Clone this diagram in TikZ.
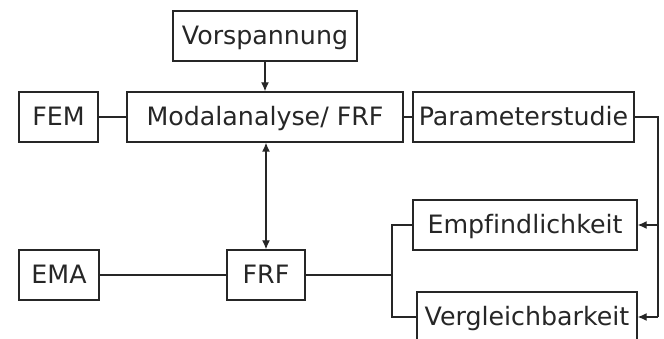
\documentclass[tikz,border=0pt]{standalone}
\usepackage{fontspec}
\setmainfont[Ligatures=NoCommon]{DejaVu Sans}
\usetikzlibrary{arrows.meta}
\definecolor{ink}{HTML}{262626}
\begin{document}
\begin{tikzpicture}[x=1pt,y=-1pt,
  box/.style={draw=ink,line width=1.3pt,text=ink,inner sep=0pt,
    font=\fontsize{25.3}{30}\selectfont,text height=18.4pt,text depth=2pt,anchor=center},
  conn/.style={draw=ink,line width=1.3pt},
  arr/.style={conn,-{Latex[length=9pt,width=8pt]}},
  darr/.style={conn,{Latex[length=9pt,width=8pt]}-{Latex[length=9pt,width=8pt]}}]
\useasboundingbox (0,0) rectangle (664,339);
\clip (0,0) rectangle (664,339);
\node[box,minimum width=184pt,minimum height=50pt] (vor) at (265,36) {Vorspannung};
\node[box,minimum width=79pt,minimum height=50pt] (fem) at (58.5,117) {FEM};
\node[box,minimum width=276pt,minimum height=50pt] (modal) at (265,117) {Modalanalyse/ FRF};
\node[box,minimum width=221pt,minimum height=50pt] (param) at (523.5,117) {Parameterstudie};
\node[box,minimum width=224pt,minimum height=50pt] (empf) at (525,225) {Empfindlichkeit};
\node[box,minimum width=80pt,minimum height=50pt] (ema) at (59,275) {EMA};
\node[box,minimum width=78pt,minimum height=50pt] (frf) at (266,275) {FRF};
\node[box,minimum width=220pt,minimum height=50pt] (verg) at (527,317) {Vergleichbarkeit};
\coordinate (br) at (392,275);
\coordinate (rt) at (658,117);
% connectors
\draw[conn] (fem) -- (modal);
\draw[conn] (modal) -- (param);
\draw[arr] (vor.south) -- (modal.north);
\draw[darr] (modal.south -| frf) -- (frf.north);
\draw[conn] (ema) -- (frf);
\draw[conn] (frf.east) -- (br);
\draw[conn] (empf.west) -| (br) |- (verg.west);
\draw[conn] (param.east) -- (rt) -- (rt |- verg.east);
\draw[arr] (rt |- empf.east) -- (empf.east);
\draw[arr] (rt |- verg.east) -- (verg.east);
\end{tikzpicture}
\end{document}
